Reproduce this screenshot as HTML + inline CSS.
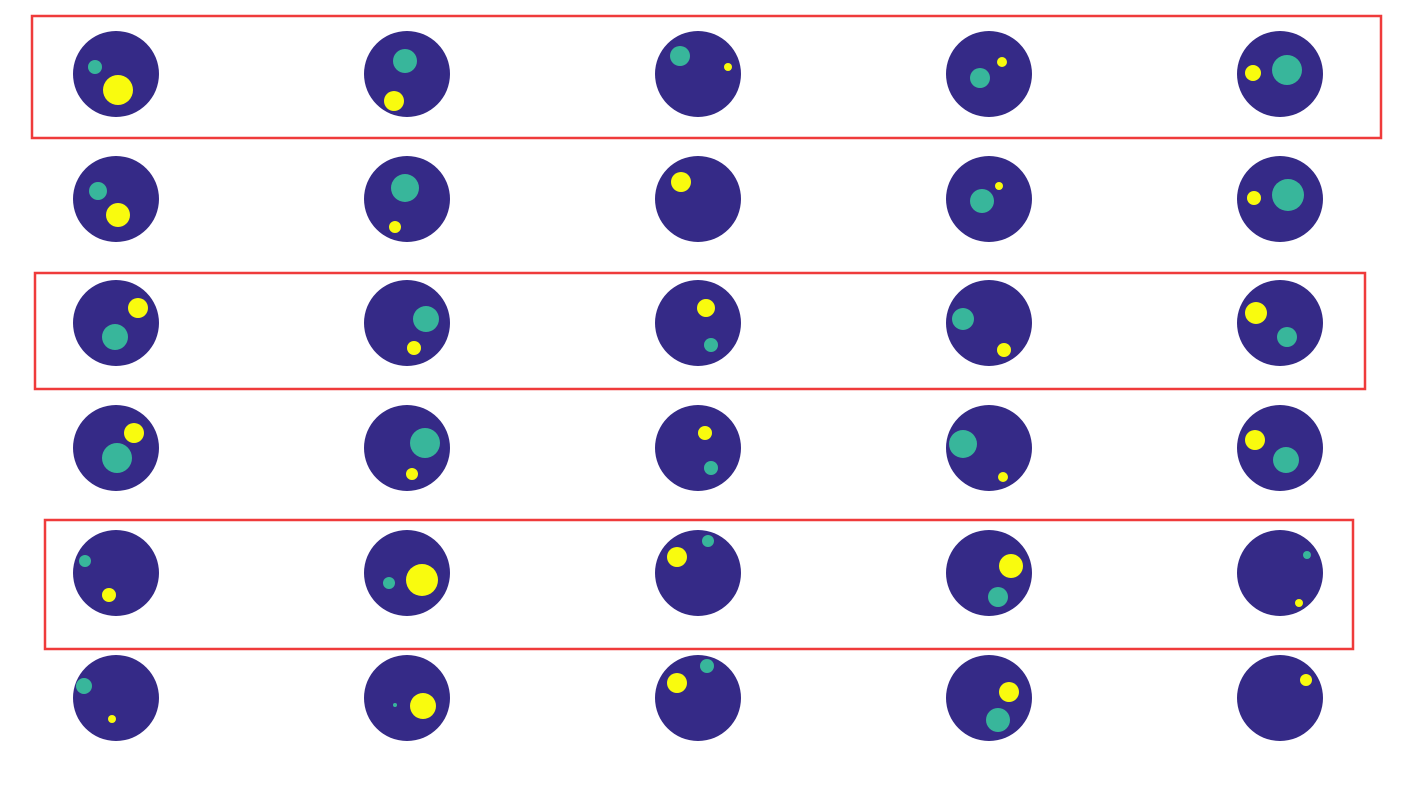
<!DOCTYPE html>
<html><head><meta charset="utf-8"><style>
html,body{margin:0;padding:0;background:#fff;width:1426px;height:809px;overflow:hidden}
</style></head><body>
<svg id="chart" width="1426" height="809" xmlns="http://www.w3.org/2000/svg"></svg>
<script>
const colCenters = [116, 407, 698, 989, 1280];
const rowCenters = [74, 199, 323, 448, 573, 698];
const discRadius = 43;
// blobs per image: [dx, dy, r, type] with type 't' teal, 'y' yellow (offsets from disc center)
const blobs = [
 [[-21,-7,7,'t'],[2,16,15,'y']],
 [[-2,-13,12,'t'],[-13,27,10,'y']],
 [[-18,-18,10,'t'],[30,-7,4,'y']],
 [[-9,4,10,'t'],[13,-12,5,'y']],
 [[7,-4,15,'t'],[-27,-1,8,'y']],
 [[-18,-8,9,'t'],[2,16,12,'y']],
 [[-2,-11,14,'t'],[-12,28,6,'y']],
 [[-17,-17,10,'y']],
 [[-7,2,12,'t'],[10,-13,4,'y']],
 [[8,-4,16,'t'],[-26,-1,7,'y']],
 [[-1,14,13,'t'],[22,-15,10,'y']],
 [[19,-4,13,'t'],[7,25,7,'y']],
 [[8,-15,9,'y'],[13,22,7,'t']],
 [[-26,-4,11,'t'],[15,27,7,'y']],
 [[-24,-10,11,'y'],[7,14,10,'t']],
 [[1,10,15,'t'],[18,-15,10,'y']],
 [[18,-5,15,'t'],[5,26,6,'y']],
 [[7,-15,7,'y'],[13,20,7,'t']],
 [[-26,-4,14,'t'],[14,29,5,'y']],
 [[-25,-8,10,'y'],[6,12,13,'t']],
 [[-31,-12,6,'t'],[-7,22,7,'y']],
 [[-18,10,6,'t'],[15,7,16,'y']],
 [[-21,-16,10,'y'],[10,-32,6,'t']],
 [[22,-7,12,'y'],[9,24,10,'t']],
 [[27,-18,4,'t'],[19,30,4,'y']],
 [[-32,-12,8,'t'],[-4,21,4,'y']],
 [[-12,7,2,'t'],[16,8,13,'y']],
 [[-21,-15,10,'y'],[9,-32,7,'t']],
 [[20,-6,10,'y'],[9,22,12,'t']],
 [[26,-18,6,'y']]
];
const boxRows = [[32,16,1381,138],[35,273,1365,389],[45,520,1353,649]];
const colors = {t:'#38b69b', y:'#f9fb0e'};
const NS = 'http://www.w3.org/2000/svg';
const svg = document.getElementById('chart');
function mk(tag, attrs){const e=document.createElementNS(NS,tag);for(const k in attrs)e.setAttribute(k,attrs[k]);svg.appendChild(e);return e;}
rowCenters.forEach((cy,r)=>{
  colCenters.forEach((cx,c)=>{
    const i=r*5+c;
    const d=mk('circle',{cx:cx,cy:cy,r:discRadius,fill:'#352a87'});
    
    
    blobs[i].forEach((b,j)=>{
      const e=mk('circle',{cx:cx+b[0],cy:cy+b[1],r:b[2],fill:colors[b[3]]});
      
      
    });
  });
});
boxRows.forEach((b,k)=>{
  const e=mk('rect',{x:b[0],y:b[1],width:b[2]-b[0],height:b[3]-b[1],fill:'none',stroke:'#ef3b3b','stroke-width':2.5});
  
  
});
</script>
</body></html>
